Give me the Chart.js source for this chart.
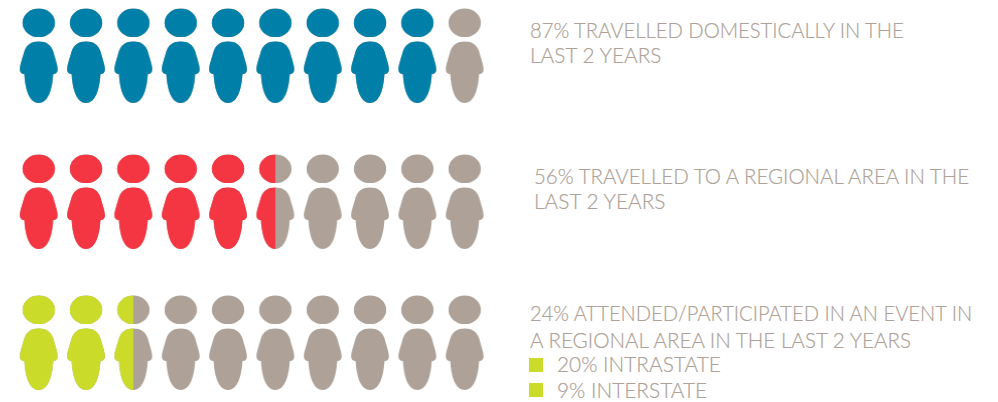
<!DOCTYPE html>
<html>
<head>
<meta charset="utf-8">
<script src="https://cdnjs.cloudflare.com/ajax/libs/Chart.js/4.4.1/chart.umd.min.js"></script>
<style>
  html, body { margin: 0; padding: 0; background: #fff; }
  #page { position: relative; width: 998px; height: 402px; overflow: hidden; }
  .row { position: absolute; left: 0; width: 490px; height: 110px; }
  .txt { position: absolute; white-space: nowrap; line-height: 1; color: #aea298; transform-origin: 0 50%;
         font-family: Lato, sans-serif; font-weight: 300; font-size: 21.5px; -webkit-text-stroke: 0.2px #aea298; }
  .sq { position: absolute; width: 14px; height: 14px; background: #cbdb2a; }
</style>
</head>
<body>
<div id="page">
  <div class="row" style="top:1px"><canvas id="row0"></canvas></div>
  <div class="row" style="top:147px"><canvas id="row1"></canvas></div>
  <div class="row" style="top:288px"><canvas id="row2"></canvas></div>

  <span class="txt" style="left:530px;top:20px;transform:scaleX(.94)">87% TRAVELLED DOMESTICALLY IN THE</span>
  <span class="txt" style="left:530px;top:45px;transform:scaleX(.97)">LAST 2 YEARS</span>
  <span class="txt" style="left:534px;top:166px;transform:scaleX(.952)">56% TRAVELLED TO A REGIONAL AREA IN THE</span>
  <span class="txt" style="left:534px;top:191px;transform:scaleX(.97)">LAST 2 YEARS</span>
  <span class="txt" style="left:530px;top:303px;transform:scaleX(.936)">24% ATTENDED/PARTICIPATED IN AN EVENT IN</span>
  <span class="txt" style="left:530px;top:330px;transform:scaleX(.96)">A REGIONAL AREA IN THE LAST 2 YEARS</span>
  <i class="sq" style="left:529px;top:358px"></i>
  <span class="txt" style="left:557px;top:354px;transform:scaleX(.97)">20% INTRASTATE</span>
  <i class="sq" style="left:529px;top:383px"></i>
  <span class="txt" style="left:557px;top:380px;transform:scaleX(.97)">9% INTERSTATE</span>
</div>
<script>
// icons filled out of ten, per row
const rowNames = ['Travelled domestically', 'Travelled to a regional area', 'Attended an event'];
const rowFilled = [9, 5.5, 2.5];
const rowColours = ['#007fa8', '#f33642', '#cbdb2a'];
const iconSlots = [0, 1, 2, 3, 4, 5, 6, 7, 8, 9];
const GREY = '#aea298';

// one person, x measured from the middle, y from the top of the head
const personPath = function(ctx) {
  ctx.beginPath();
  ctx.ellipse(0, 14.3, 16.2, 14.3, 0, 0, Math.PI * 2);
  ctx.moveTo(0, 33);
  ctx.bezierCurveTo(7.5, 33, 12, 36, 14.5, 43);
  ctx.bezierCurveTo(16, 49, 18.9, 56, 18.9, 61);
  ctx.bezierCurveTo(18.9, 64, 17, 65.5, 14.4, 65.8);
  ctx.bezierCurveTo(13.7, 78, 10.5, 94.5, 0, 94.5);
  ctx.bezierCurveTo(-10.5, 94.5, -13.7, 78, -14.4, 65.8);
  ctx.bezierCurveTo(-17, 65.5, -18.9, 64, -18.9, 61);
  ctx.bezierCurveTo(-18.9, 56, -16, 49, -14.5, 43);
  ctx.bezierCurveTo(-12, 36, -7.5, 33, 0, 33);
  ctx.closePath();
};

// canvas used as pointStyle, share is the part painted in colour from the left
const personIcon = function(colour, share) {
  const c = document.createElement('canvas');
  c.width = 40;
  c.height = 96;
  const ctx = c.getContext('2d');
  ctx.translate(20, 0.5);
  personPath(ctx);
  ctx.fillStyle = GREY;
  ctx.fill();
  if (share > 0) {
    ctx.save();
    ctx.beginPath();
    ctx.rect(-20, 0, 40 * share, 96);
    ctx.clip();
    personPath(ctx);
    ctx.fillStyle = colour;
    ctx.fill();
    ctx.restore();
  }
  return c;
};

rowFilled.forEach(function(filled, r) {
  new Chart(document.getElementById('row' + r), {
    type: 'scatter',
    data: {
      datasets: [{
        label: rowNames[r],
        data: iconSlots.map(function(i) { return {x: i, y: 0}; }),
        pointStyle: iconSlots.map(function(i) {
          return personIcon(rowColours[r], Math.max(0, Math.min(1, filled - i)));
        }),
        pointRadius: 20,
        clip: false
      }]
    },
    options: {
      responsive: true,
      maintainAspectRatio: false,
      animation: false,
      events: [],
      layout: {padding: 0, autoPadding: false},
      plugins: {legend: {display: false}, tooltip: {enabled: false}},
      scales: {
        x: {type: 'linear', min: -0.818, max: 9.535, display: false},
        y: {type: 'linear', min: -1, max: 1, display: false}
      }
    }
  });
});
</script>
</body>
</html>
